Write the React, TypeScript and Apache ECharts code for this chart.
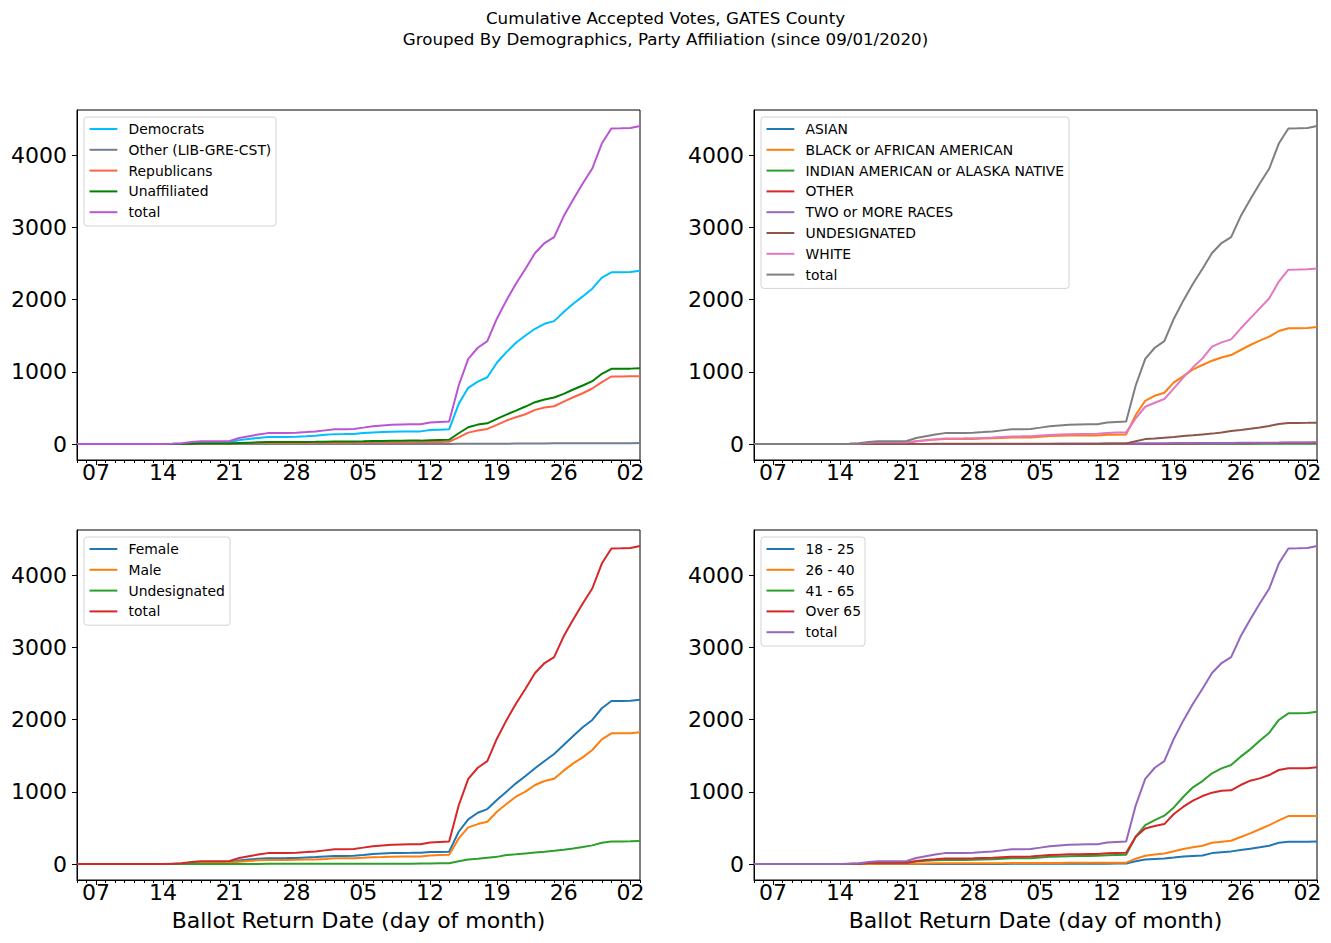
import React, { useEffect, useRef } from 'react';
import * as echarts from 'echarts';

// ---------------- data ----------------
// Day index 0 = Sep 05 2020 ... 59 = Nov 03 2020
const TICK_DAY_INDEX = [2, 9, 16, 23, 30, 37, 44, 51, 58];
const TICK_LABELS = ['07', '14', '21', '28', '05', '12', '19', '26', '02'];
const Y_TICKS = [0, 1000, 2000, 3000, 4000];
const X_TITLE = 'Ballot Return Date (day of month)';
const TITLE = 'Cumulative Accepted Votes, GATES County\nGrouped By Demographics, Party Affiliation (since 09/01/2020)';

const TOTAL = [0,0,0,0,0,0,0,0,1,2, 5,12,30,40,40,40,42,85,110,132, 152,152,153,158,166,175,190,205,206,210, 228,248,258,268,272,274,276,298,306,312, 811,1181,1334,1426,1736,1990,2221,2429,2646,2784, 2867,3154,3386,3608,3816,4162,4370,4372,4378,4406];

// Party
const PARTY_NAMES = ['Democrats', 'Other (LIB-GRE-CST)', 'Republicans', 'Unaffiliated', 'total'];
const DEM = [0,0,0,0,0,0,0,0,0,1, 3,7,16,20,20,20,22,55,72,86, 98,98,99,102,108,115,128,138,139,141, 152,162,168,172,174,175,176,195,200,205, 557,779,866,926,1126,1273,1403,1504,1597,1666, 1703,1828,1944,2045,2152,2304,2378,2379,2383,2401];
const OTHER_PARTY = [0,0,0,0,0,0,0,0,0,0, 0,0,0,0,0,0,0,0,0,0, 1,1,1,1,1,1,1,1,1,1, 1,1,1,1,2,2,2,2,2,2, 3,4,4,5,5,6,7,8,9,9, 10,10,11,12,12,13,13,13,13,14];
const REP = [0,0,0,0,0,0,0,0,0,0, 1,1,3,5,5,5,5,10,12,14, 15,15,15,15,16,17,18,20,20,21, 22,24,25,26,27,27,28,29,30,32, 94,159,187,210,266,326,372,413,474,506, 524,589,649,704,770,857,936,936,938,940];
const UNA = [0,0,0,0,0,0,0,0,0,0, 1,2,5,8,8,8,9,15,20,24, 28,28,28,29,30,31,33,35,35,36, 38,42,44,46,47,48,48,52,56,60, 150,233,270,288,349,409,464,520,580,617, 645,696,756,811,871,973,1043,1043,1045,1051];

// Race
const RACE_NAMES = ['ASIAN', 'BLACK or AFRICAN AMERICAN', 'INDIAN AMERICAN or ALASKA NATIVE', 'OTHER', 'TWO or MORE RACES', 'UNDESIGNATED', 'WHITE', 'total'];
const ASIAN = [0,0,0,0,0,0,0,0,0,0, 0,0,0,0,0,0,0,1,1,1, 1,1,1,1,1,1,1,1,1,1, 1,1,2,2,2,2,2,2,2,2, 3,3,4,4,5,6,6,7,7,8, 8,9,9,10,10,10,11,11,11,12];
const BLACK = [0,0,0,0,0,0,0,0,0,1, 2,4,9,12,12,12,14,40,55,63, 69,69,70,72,76,80,85,90,90,92, 100,111,115,118,119,120,120,128,131,134, 402,600,670,711,855,942,1035,1095,1155,1200, 1233,1303,1372,1432,1488,1566,1605,1605,1608,1622];
const INDIAN = [0,0,0,0,0,0,0,0,0,0, 0,0,0,0,0,0,0,0,0,0, 0,0,0,0,0,0,0,0,0,0, 0,0,0,0,0,1,1,1,1,1, 1,1,2,2,2,3,3,3,3,4, 4,4,4,5,5,5,5,5,5,6];
const OTHER_RACE = [0,0,0,0,0,0,0,0,0,0, 0,0,0,0,0,0,0,1,1,1, 1,1,1,1,1,1,2,2,2,2, 2,2,2,2,2,2,2,3,3,3, 4,5,6,6,7,8,9,10,10,11, 12,13,13,14,15,16,17,17,17,18];
const TWO_MORE = [0,0,0,0,0,0,0,0,0,0, 0,0,0,0,0,0,0,1,1,1, 1,1,1,1,1,1,2,2,2,2, 2,2,3,3,3,3,3,3,3,3, 5,7,8,9,10,11,12,13,14,15, 16,17,18,19,20,21,23,23,23,24];
const UNDES_RACE = [0,0,0,0,0,0,0,0,0,0, 0,0,1,1,1,1,2,2,2,3, 3,3,3,3,3,3,3,4,4,4, 4,4,5,5,5,5,6,7,8,9, 40,69,78,88,98,111,122,134,145,160, 180,195,212,231,252,277,292,293,294,296];
const WHITE = [0,0,0,0,0,0,0,0,1,1, 3,7,18,24,24,24,24,38,50,65, 79,79,80,82,86,90,98,106,107,110, 118,125,132,137,140,141,143,155,159,162, 356,517,573,624,771,924,1063,1187,1349,1409, 1450,1600,1740,1880,2020,2250,2415,2416,2420,2432];

// Gender
const GENDER_NAMES = ['Female', 'Male', 'Undesignated', 'total'];
const FEMALE = [0,0,0,0,0,0,0,0,0,1, 3,8,18,23,23,23,24,50,64,74, 82,82,83,86,92,98,106,112,113,115, 126,140,147,152,155,156,158,166,169,172, 448,619,711,762,887,1003,1118,1220,1326,1428, 1525,1649,1774,1894,1996,2158,2259,2260,2263,2275];
const MALE = [0,0,0,0,0,0,0,0,1,1, 2,4,12,16,16,16,17,33,44,52, 58,58,58,60,62,65,71,80,80,82, 88,95,98,103,105,106,106,120,125,129, 356,508,554,587,725,832,933,1003,1095,1150, 1183,1294,1395,1478,1580,1728,1811,1811,1813,1825];
const UNDES_GENDER = [0,0,0,0,0,0,0,0,0,0, 0,0,1,1,1,1,1,2,2,2, 3,3,3,3,3,3,4,4,4,4, 5,5,6,6,6,6,7,8,10,11, 40,65,75,88,100,125,135,148,160,172, 185,200,217,236,259,296,314,314,315,319];

// Age
const AGE_NAMES = ['18 - 25', '26 - 40', '41 - 65', 'Over 65', 'total'];
const AGE_18_25 = [0,0,0,0,0,0,0,0,0,0, 0,0,0,0,0,0,0,1,1,1, 2,2,2,2,2,2,2,3,3,3, 4,4,4,5,5,5,5,6,7,8, 40,65,72,79,92,106,113,120,152,165, 176,195,213,233,254,296,310,310,311,314];
const AGE_26_40 = [0,0,0,0,0,0,0,0,0,0, 0,1,2,3,3,3,3,6,8,10, 11,11,11,11,12,12,13,14,14,14, 15,16,16,17,17,18,18,19,19,20, 75,116,132,148,178,208,232,254,296,310, 323,375,425,482,540,605,665,665,665,667];
const AGE_41_65 = [0,0,0,0,0,0,0,0,0,1, 2,6,14,17,17,17,18,35,45,52, 58,58,58,60,63,67,73,80,80,82, 90,100,105,110,112,113,114,122,125,128, 379,540,610,670,785,933,1063,1150,1257,1326, 1372,1488,1589,1709,1820,1996,2088,2088,2091,2111];
const AGE_OVER_65 = [0,0,0,0,0,0,0,0,1,1, 3,5,14,19,19,19,20,42,55,66, 78,78,79,81,85,88,95,102,103,105, 115,125,131,136,138,139,140,150,154,157, 379,494,527,554,693,795,878,942,989,1016, 1021,1095,1155,1187,1233,1303,1326,1326,1328,1340];

// ---------------- styles ----------------
const FONT = 'DejaVu Sans';
const TAB10 = ['#1f77b4', '#ff7f0e', '#2ca02c', '#d62728', '#9467bd', '#8c564b', '#e377c2', '#7f7f7f'];

const PANELS = [
  { names: PARTY_NAMES, data: [DEM, OTHER_PARTY, REP, UNA, TOTAL], colors: ['#00bfff', '#708090', '#ff6347', '#008000', '#ba55d3'], legendWidth: 192 },
  { names: RACE_NAMES, data: [ASIAN, BLACK, INDIAN, OTHER_RACE, TWO_MORE, UNDES_RACE, WHITE, TOTAL], colors: TAB10, legendWidth: 308 },
  { names: GENDER_NAMES, data: [FEMALE, MALE, UNDES_GENDER, TOTAL], colors: TAB10.slice(0, 4), legendWidth: 146 },
  { names: AGE_NAMES, data: [AGE_18_25, AGE_26_40, AGE_41_65, AGE_OVER_65, TOTAL], colors: TAB10.slice(0, 5), legendWidth: 104 },
];

const GRID_POS = [
  { left: 77, top: 110 },
  { left: 754, top: 110 },
  { left: 77, top: 530 },
  { left: 754, top: 530 },
];
const GRID_W = 563;
const GRID_H = 350;

function buildOption() {
  const n = TOTAL.length;
  const yMaxData = Math.max(...TOTAL);
  const pad = yMaxData * 0.05;
  const yMin = -pad;
  const yMax = yMaxData + pad;

  const grid = GRID_POS.map((p) => ({
    left: p.left, top: p.top, width: GRID_W, height: GRID_H,
    show: true, borderColor: '#000', borderWidth: 1, backgroundColor: 'transparent',
  }));

  const xAxis: any[] = [];
  const yAxis: any[] = [];
  PANELS.forEach((_, g) => {
    xAxis.push({
      type: 'value', gridIndex: g, min: 0, max: n - 1, position: 'bottom',
      axisLine: { show: true, onZero: false, lineStyle: { color: '#000', width: 1 } },
      axisTick: { show: true, customValues: TICK_DAY_INDEX, length: 5, lineStyle: { color: '#000', width: 1 } },
      axisLabel: {
        show: true, customValues: TICK_DAY_INDEX,
        formatter: (v: number) => { const k = TICK_DAY_INDEX.indexOf(Math.round(v)); return k >= 0 ? TICK_LABELS[k] : ''; },
        fontSize: 22, color: '#000', fontFamily: FONT, margin: 1,
      },
      splitLine: { show: false },
      name: g >= 2 ? X_TITLE : '',
      nameLocation: 'middle', nameGap: 29,
      nameTextStyle: { fontSize: 22, color: '#000', fontFamily: FONT },
    });
    xAxis.push({
      type: 'value', gridIndex: g, min: 0, max: n - 1, interval: 1, position: 'bottom',
      axisLine: { show: false, onZero: false },
      axisTick: { show: true, length: 3, lineStyle: { color: '#000', width: 1 } },
      axisLabel: { show: false },
      splitLine: { show: false },
    });
    yAxis.push({
      type: 'value', gridIndex: g, min: yMin, max: yMax,
      axisLine: { show: true, onZero: false, lineStyle: { color: '#000', width: 1 } },
      axisTick: { show: true, customValues: Y_TICKS, length: 5, lineStyle: { color: '#000', width: 1 } },
      axisLabel: {
        show: true, customValues: Y_TICKS, formatter: (v: number) => String(Math.round(v)),
        fontSize: 22, color: '#000', fontFamily: FONT, margin: 10,
      },
      splitLine: { show: false },
    });
  });

  const series: any[] = [];
  PANELS.forEach((p, g) => {
    p.data.forEach((arr, k) => {
      series.push({
        type: 'line',
        name: `${p.names[k]} (${g})`,
        xAxisIndex: 2 * g,
        yAxisIndex: g,
        data: arr.map((v, i) => [i, v]),
        symbol: 'none',
        showSymbol: false,
        silent: true,
        clip: true,
        lineStyle: { color: p.colors[k], width: 2 },
        itemStyle: { color: p.colors[k] },
        emphasis: { disabled: true },
      });
    });
  });

  const graphic: any[] = [];
  const rowH = 20.8;
  PANELS.forEach((p, g) => {
    const bx = GRID_POS[g].left + 7;
    const by = GRID_POS[g].top + 7;
    graphic.push({
      type: 'rect', z: 100,
      shape: { x: bx, y: by, width: p.legendWidth, height: p.names.length * rowH + 5, r: 3 },
      style: { fill: 'rgba(255,255,255,0.8)', stroke: '#d3d3d3', lineWidth: 1 },
    });
    p.names.forEach((name, k) => {
      const cy = by + 12 + k * rowH;
      graphic.push({
        type: 'line', z: 101,
        shape: { x1: bx + 5.5, y1: cy, x2: bx + 33.3, y2: cy },
        style: { stroke: p.colors[k], lineWidth: 2 },
      });
      graphic.push({
        type: 'text', z: 101, x: bx + 44.5, y: cy,
        style: { text: name, fill: '#000', fontSize: 13.9, fontFamily: FONT, align: 'left', verticalAlign: 'middle' },
      });
    });
  });

  return {
    animation: false,
    backgroundColor: '#fff',
    title: {
      text: TITLE, left: 'center', top: 7.7, padding: 0,
      textStyle: { fontSize: 16.7, fontWeight: 'normal', fontFamily: FONT, color: '#000', lineHeight: 21, align: 'center' },
    },
    grid, xAxis, yAxis, series, graphic,
  };
}

export default function App() {
  const ref = useRef<HTMLDivElement>(null);
  useEffect(() => {
    if (!ref.current) return;
    const chart = echarts.init(ref.current, null, { renderer: 'svg' });
    chart.setOption(buildOption() as any);
    return () => chart.dispose();
  }, []);
  return (
    <div
      ref={ref}
      style={{ position: 'fixed', left: 0, top: 0, width: 1331, height: 943, background: '#fff' }}
    />
  );
}
